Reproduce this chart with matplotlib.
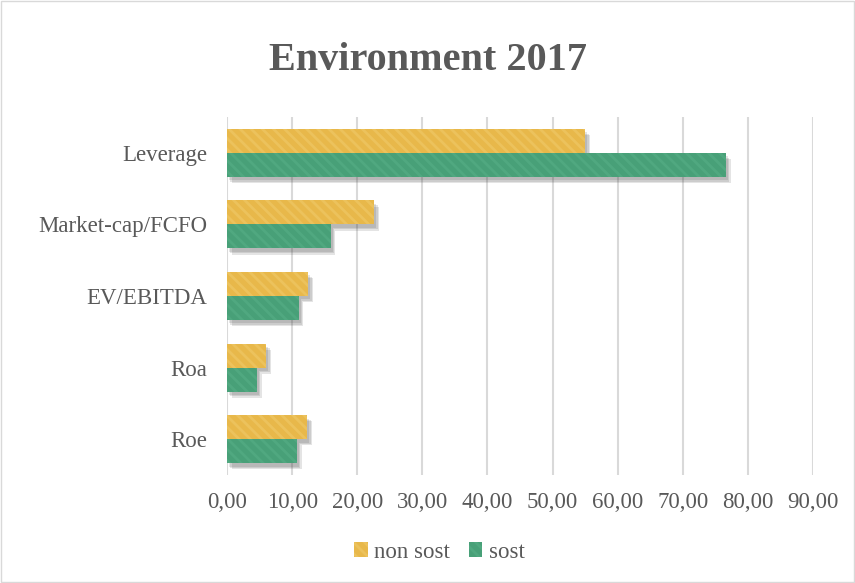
import matplotlib
matplotlib.use("Agg")
import matplotlib.pyplot as plt
import matplotlib.patheffects as pe
from matplotlib.font_manager import FontProperties
import numpy as np

categories = ["Leverage", "Market-cap/FCFO", "EV/EBITDA", "Roa", "Roe"]
non_sost = [55.0, 22.6, 12.5, 6.0, 12.3]
sost = [76.6, 15.9, 11.0, 4.6, 10.7]
xticks = [0, 10, 20, 30, 40, 50, 60, 70, 80, 90]

YELLOW = "#E8B84A"
GREEN = "#48A078"
TEXT = "#595959"

plt.rcParams["font.family"] = ["Liberation Serif", "DejaVu Serif"]
plt.rcParams["hatch.linewidth"] = 2.0

fig = plt.figure(figsize=(8.55, 5.83), dpi=100)
fig.patches.append(plt.Rectangle((0.001, 0.001), 0.998, 0.998, transform=fig.transFigure,
                                 fill=False, edgecolor="#d9d9d9", linewidth=1))
ax = fig.add_axes([227 / 855, 1 - 475 / 583, (813 - 227) / 855, (475 - 117) / 583])

y = np.arange(len(categories))
h = 0.335

# soft drop shadow: stacked, increasingly offset shadows of plain bars
soft = [pe.SimplePatchShadow(offset=(1.5 + k, -2.5 - k), alpha=0.14, shadow_rgbFace="#404040")
        for k in range(3)]
for vals, off in [(non_sost, -h / 2), (sost, h / 2)]:
    sb = ax.barh(y + off, vals, height=h, color="none", linewidth=0, zorder=2)
    for bar in sb:
        bar.set_path_effects(soft)

b1 = ax.barh(y - h / 2, non_sost, height=h, color=YELLOW, edgecolor="#ecc25c",
             linewidth=0, hatch="\\\\\\", label="non sost", zorder=3)
b2 = ax.barh(y + h / 2, sost, height=h, color=GREEN, edgecolor="#50a880",
             linewidth=0, hatch="\\\\\\", label="sost", zorder=3)

ax.set_ylim(len(categories) - 0.5, -0.5)
ax.set_xlim(0, 90)
ax.set_yticks(y)
ax.set_yticklabels(categories, fontsize=16.5, color=TEXT)
ax.set_xticks(xticks)
ax.set_xticklabels([f"{v:.2f}".replace(".", ",") for v in xticks], fontsize=16.5, color=TEXT)
ax.tick_params(axis="x", length=0, pad=12)
ax.tick_params(axis="y", length=0, pad=14)
ax.grid(axis="x", color="#d9d9d9", linewidth=1.5, zorder=0)
for s in ax.spines.values():
    s.set_visible(False)

fig.text(0.5, 1 - 60 / 583, "Environment 2017", ha="center", va="center",
         fontsize=29, fontweight="bold", color=TEXT)

leg_font = FontProperties(family=["Liberation Serif", "DejaVu Serif"], size=16.5)
leg = fig.legend(handles=[b1, b2], loc="center", bbox_to_anchor=(0.514, 1 - 552 / 583),
                 ncol=2, frameon=False, prop=leg_font, handlelength=0.6, handleheight=0.6,
                 handletextpad=0.3, columnspacing=0.8)
for t in leg.get_texts():
    t.set_color(TEXT)

fig.savefig("out.png", dpi=100)
